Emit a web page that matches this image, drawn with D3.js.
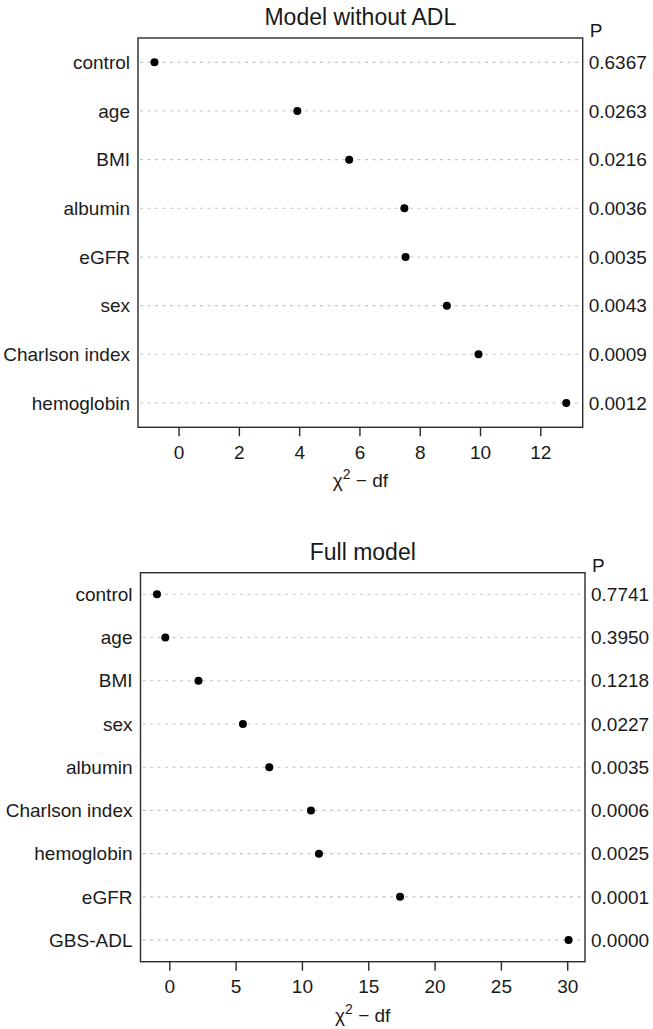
<!DOCTYPE html>
<html><head><meta charset="utf-8">
<script src="https://cdn.jsdelivr.net/npm/d3@7"></script>
<style>
body{margin:0;background:#fff;}
text{font-family:"Liberation Sans",Arial,sans-serif;fill:#1a1a1a;}
</style></head>
<body><svg id="c" width="653" height="1029"></svg>
<script>
// Panel 1: Model without ADL
const cats1 = ["control","age","BMI","albumin","eGFR","sex","Charlson index","hemoglobin"];
const vals1 = [-0.80, 3.94, 5.66, 7.49, 7.53, 8.90, 9.95, 12.86];
const pvals1 = ["0.6367","0.0263","0.0216","0.0036","0.0035","0.0043","0.0009","0.0012"];
const ticks1 = [0,2,4,6,8,10,12];
// Panel 2: Full model
const cats2 = ["control","age","BMI","sex","albumin","Charlson index","hemoglobin","eGFR","GBS-ADL"];
const vals2 = [-0.93, -0.30, 2.20, 5.55, 7.54, 10.68, 11.28, 17.40, 30.10];
const pvals2 = ["0.7741","0.3950","0.1218","0.0227","0.0035","0.0006","0.0025","0.0001","0.0000"];
const ticks2 = [0,5,10,15,20,25,30];
const titles = ["Model without ADL","Full model"];

const svg = d3.select("#c");
const FS = 19;

function panel(title, cats, vals, pvals, ticks, box){
  const g = svg.append("g");
  const lo = d3.min(vals), hi = d3.max(vals), ext = (hi-lo)*0.04;
  const x = d3.scaleLinear().domain([lo-ext, hi+ext]).range([box.x0, box.x1]);
  const y = d3.scalePoint().domain(cats).range([box.y0, box.y1]).padding(0.5);

  g.selectAll("line.grid").data(cats).join("line")
    .attr("x1", box.x0+2).attr("x2", box.x1-2)
    .attr("y1", d=>y(d)).attr("y2", d=>y(d))
    .attr("stroke","#c4c4c4").attr("stroke-width",1.1)
    .attr("stroke-dasharray","3,4.5");

  g.selectAll("circle").data(cats).join("circle")
    .attr("cx",(d,i)=>x(vals[i])).attr("cy",d=>y(d)).attr("r",4)
    .attr("fill","#000");

  g.append("rect").attr("x",box.x0).attr("y",box.y0)
    .attr("width",box.x1-box.x0).attr("height",box.y1-box.y0)
    .attr("fill","none").attr("stroke","#2b2b2b").attr("stroke-width",1.4);

  g.selectAll("text.lab").data(cats).join("text")
    .attr("x", box.x0-8).attr("y", d=>y(d)).attr("dy","0.35em")
    .attr("text-anchor","end").attr("font-size",FS).text(d=>d);

  g.selectAll("text.p").data(cats).join("text")
    .attr("x", box.x1+6).attr("y", d=>y(d)).attr("dy","0.35em")
    .attr("font-size",FS).text((d,i)=>pvals[i]);
  g.append("text").attr("x", box.x1+7).attr("y", box.y0-1)
    .attr("font-size",FS).text("P");

  const ax = g.append("g").attr("transform",`translate(0,${box.y1})`)
    .call(d3.axisBottom(x).tickValues(ticks).tickSize(9).tickPadding(9).tickFormat(d3.format("d")));
  ax.select(".domain").remove();
  ax.selectAll(".tick line").attr("stroke","#2b2b2b").attr("stroke-width",1.4);
  ax.selectAll(".tick text").attr("font-size",FS).attr("fill","#1a1a1a")
    .style("font-family","'Liberation Sans',Arial,sans-serif");

  const cx = (box.x0+box.x1)/2;
  const t = g.append("text").attr("x",cx).attr("y",box.y1+60)
    .attr("text-anchor","middle").attr("font-size",FS);
  t.append("tspan").text("χ");
  t.append("tspan").attr("dy",-8).attr("font-size",14).text("2");
  t.append("tspan").attr("dy",8).text(" − df");

  g.append("text").attr("x",cx).attr("y",box.y0-13)
    .attr("text-anchor","middle").attr("font-size",23).text(title);
}

panel(titles[0], cats1, vals1, pvals1, ticks1, {x0:138, x1:582.7, y0:38, y1:427.3});
panel(titles[1], cats2, vals2, pvals2, ticks2, {x0:140.5, x1:585, y0:572.7, y1:961.7});
</script></body></html>
